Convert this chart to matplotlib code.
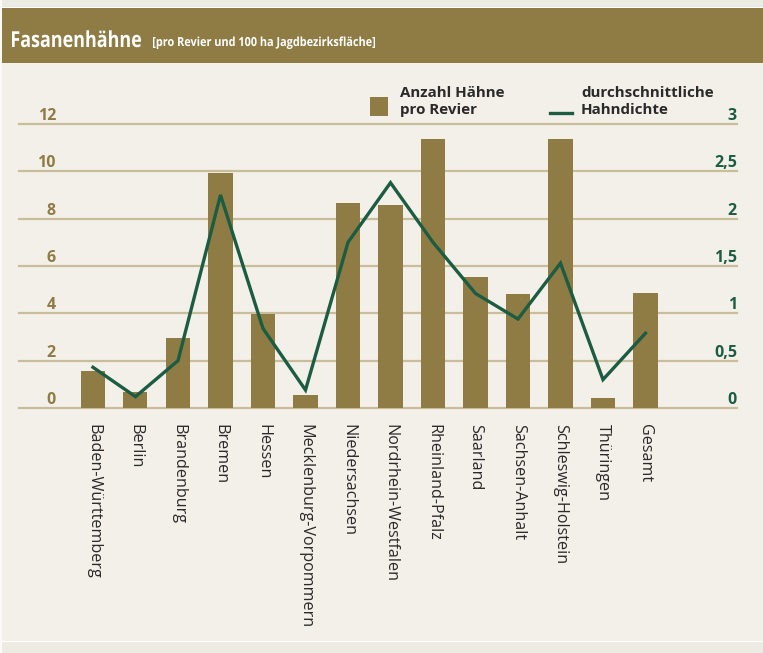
import matplotlib
matplotlib.use("Agg")
import matplotlib.pyplot as plt
from matplotlib.patches import Rectangle, PathPatch
from matplotlib.lines import Line2D
from matplotlib.textpath import TextPath
from matplotlib.font_manager import FontProperties
from matplotlib.transforms import offset_copy, Affine2D
import numpy as np

# Bundeslaender und Gesamtwert
laender = ["Baden-Württemberg", "Berlin", "Brandenburg", "Bremen", "Hessen",
           "Mecklenburg-Vorpommern", "Niedersachsen", "Nordrhein-Westfalen",
           "Rheinland-Pfalz", "Saarland", "Sachsen-Anhalt",
           "Schleswig-Holstein", "Thüringen", "Gesamt"]

# Anzahl Haehne pro Revier (linke Achse)
haehne_revier = [1.55, 0.66, 2.94, 9.95, 3.97, 0.54, 8.65, 8.56,
                 11.35, 5.52, 4.80, 11.35, 0.41, 4.85]

# durchschnittliche Hahndichte je 100 ha (rechte Achse)
hahndichte = [0.43, 0.12, 0.50, 2.25, 0.84, 0.19, 1.75, 2.38,
              1.75, 1.21, 0.94, 1.53, 0.30, 0.79]

links_ticks = [0, 2, 4, 6, 8, 10, 12]
rechts_ticks = [0, 0.5, 1, 1.5, 2, 2.5, 3]
rechts_labels = ["0", "0,5", "1", "1,5", "2", "2,5", "3"]

OLIV = "#8f7c45"
GRUEN = "#1c5c42"
GITTER = "#c9bd9c"
HINTERGRUND = "#f3f0e9"
TEXT = "#2a2a2a"

plt.rcParams["font.family"] = ["Open Sans", "DejaVu Sans"]

W, H = 763, 653
fig = plt.figure(figsize=(W / 100, H / 100), dpi=100, facecolor=HINTERGRUND)


def fx(x):
    return x / W


def fy(y):
    return 1 - y / H


def schmaler_text(x, y, s, size, breite):
    """Fetter Text, horizontal auf die gewuenschte Breite gestaucht (Pixel)."""
    pfad = TextPath((0, 0), s, size=size,
                    prop=FontProperties(family="Open Sans", weight="bold"))
    ext = pfad.get_extents()
    sx = breite / ext.width
    tr = Affine2D().translate(-ext.x0, 0).scale(sx, 1).translate(x, H - y)
    fig.add_artist(PathPatch(pfad, transform=tr, facecolor="white", lw=0))


# Rahmen oben/unten und Titelbalken
fig.add_artist(Rectangle((0, fy(7)), 1, 7 / H, transform=fig.transFigure,
                         color="#eceae4", lw=0))
fig.add_artist(Rectangle((0, fy(8)), 1, 1.5 / H, transform=fig.transFigure,
                         color="#ffffff", lw=0))
fig.add_artist(Rectangle((fx(2), fy(63)), 1, 55 / H, transform=fig.transFigure,
                         color=OLIV, lw=0))
fig.add_artist(Rectangle((0, 0), 1, 11 / H, transform=fig.transFigure,
                         color="#eeebe4", lw=0))
fig.add_artist(Rectangle((0, fy(642)), 1, 1.5 / H, transform=fig.transFigure,
                         color="#ffffff", lw=0))
fig.add_artist(Rectangle((0, 0), 2 / W, 1, transform=fig.transFigure,
                         color="#fbfaf7", lw=0))

schmaler_text(12, 47, "Fasanenhähne", 22, 129)
schmaler_text(153, 46, "[pro Revier und 100 ha Jagdbezirksfläche]", 12.5, 222)

# Diagrammflaeche
ax = fig.add_axes([fx(19), fy(408), 718 / W, 284 / H])
ax.set_facecolor("none")
x = np.arange(len(laender))
ax.bar(x, haehne_revier, width=0.565, color=OLIV, zorder=3)
ax.set_xlim(-1.741, 15.153)
ax.set_ylim(0, 12)
for s in ax.spines.values():
    s.set_visible(False)

for t in links_ticks:
    ax.axhline(t, color=GITTER, lw=1.6, zorder=1, clip_on=False)

ax.set_yticks([])
ax.set_xticks(x)
ax.set_xticklabels(laender, rotation=-90, ha="center", va="top",
                   fontsize=11.6, color=TEXT)
ax.tick_params(axis="x", length=0, pad=11.5)

trans_l = offset_copy(ax.get_yaxis_transform(), fig=fig, y=4, units="dots")
for t in links_ticks:
    ax.text(0.0515, t, str(t), transform=trans_l, ha="right", va="baseline",
            fontsize=11.5, fontweight="bold", color=OLIV)

ax2 = ax.twinx()
ax2.set_ylim(0, 3)
ax2.set_yticks([])
for s in ax2.spines.values():
    s.set_visible(False)
ax2.plot(x, hahndichte, color=GRUEN, lw=2.4, zorder=4, solid_joinstyle="miter")

trans_r = offset_copy(ax2.get_yaxis_transform(), fig=fig, y=4, units="dots")
for t, lab in zip(rechts_ticks, rechts_labels):
    ax2.text(1.0, t, lab, transform=trans_r, ha="right", va="baseline",
             fontsize=11.5, fontweight="bold", color=GRUEN)

# Legende
fig.add_artist(Rectangle((fx(370), fy(116)), 18 / W, 19 / H,
                         transform=fig.transFigure, color=OLIV, lw=0))
fig.text(fx(400), fy(97), "Anzahl Hähne", fontsize=10.9, fontweight="bold",
         color=TEXT, va="baseline")
fig.text(fx(400), fy(114), "pro Revier", fontsize=10.9, fontweight="bold",
         color=TEXT, va="baseline")
fig.add_artist(Line2D([fx(550), fx(572)], [fy(113), fy(113)],
                      transform=fig.transFigure, color=GRUEN, lw=2.4))
fig.text(fx(581), fy(97), "durchschnittliche", fontsize=10.9,
         fontweight="bold", color=TEXT, va="baseline")
fig.text(fx(581), fy(114), "Hahndichte", fontsize=10.9, fontweight="bold",
         color=TEXT, va="baseline")

fig.savefig("out.png", dpi=100, facecolor=HINTERGRUND)
